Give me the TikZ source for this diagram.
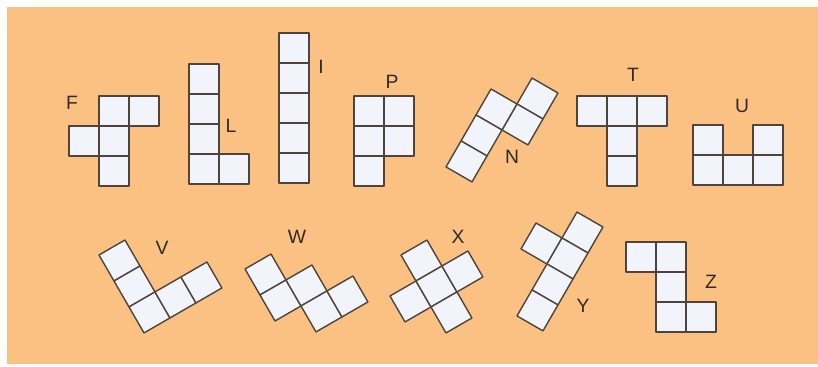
\documentclass[tikz,border=0pt]{standalone}
\usepackage{fontspec}
\setsansfont{Liberation Sans}
\usepackage{xcolor}
\usepackage{tikz}
\usetikzlibrary{positioning}

\definecolor{bgorange}{RGB}{250,193,131}
\definecolor{cellfill}{RGB}{241,245,251}
\definecolor{celledge}{RGB}{78,68,60}
\definecolor{lettercol}{RGB}{48,42,38}

\begin{document}
\begin{tikzpicture}[x=0.02cm, y=-0.02cm,
        piece/.style={x=0.6cm, y=-0.6cm},
        cell/.style={draw=celledge, fill=cellfill, line width=0.8pt, line join=round},
        lbl/.style={font=\sffamily\fontsize{11}{13}\selectfont, text=lettercol, inner sep=0pt},
    ]
    % Background
    \useasboundingbox (0,0) rectangle (818,366);
    \fill[bgorange] (7,7) rectangle (818,364);

    % Row 1: upright pieces
    \begin{scope}[shift={(69,96)}, piece] % F
        \foreach \i/\j in {1/0,2/0,0/1,1/1,1/2} \draw[cell] (\i,\j) rectangle ++(1,1);
    \end{scope}
    \begin{scope}[shift={(189,64)}, piece] % L
        \foreach \i/\j in {0/0,0/1,0/2,0/3,1/3} \draw[cell] (\i,\j) rectangle ++(1,1);
    \end{scope}
    \begin{scope}[shift={(279,33)}, piece] % I
        \foreach \j in {0,...,4} \draw[cell] (0,\j) rectangle ++(1,1);
    \end{scope}
    \begin{scope}[shift={(354,96)}, piece] % P
        \foreach \i/\j in {0/0,1/0,0/1,1/1,0/2} \draw[cell] (\i,\j) rectangle ++(1,1);
    \end{scope}
    \begin{scope}[shift={(506,63)}, rotate=-30, piece] % N
        \foreach \i/\j in {1/0,1/1,0/1,0/2,0/3} \draw[cell] (\i,\j) rectangle ++(1,1);
    \end{scope}
    \begin{scope}[shift={(577,96)}, piece] % T
        \foreach \i/\j in {0/0,1/0,2/0,1/1,1/2} \draw[cell] (\i,\j) rectangle ++(1,1);
    \end{scope}
    \begin{scope}[shift={(693,125)}, piece] % U
        \foreach \i/\j in {0/0,2/0,0/1,1/1,2/1} \draw[cell] (\i,\j) rectangle ++(1,1);
    \end{scope}

    % Row 2: tilted pieces and Z
    \begin{scope}[shift={(99,255)}, rotate=30, piece] % V
        \foreach \i/\j in {0/0,0/1,0/2,1/2,2/2} \draw[cell] (\i,\j) rectangle ++(1,1);
    \end{scope}
    \begin{scope}[shift={(245,269)}, rotate=30, piece] % W
        \foreach \i/\j in {0/0,0/1,1/1,1/2,2/2} \draw[cell] (\i,\j) rectangle ++(1,1);
    \end{scope}
    \begin{scope}[shift={(375,270)}, rotate=30, piece] % X
        \foreach \i/\j in {1/0,0/1,1/1,2/1,1/2} \draw[cell] (\i,\j) rectangle ++(1,1);
    \end{scope}
    \begin{scope}[shift={(551,197)}, rotate=-30, piece] % Y
        \foreach \i/\j in {1/0,0/1,1/1,1/2,1/3} \draw[cell] (\i,\j) rectangle ++(1,1);
    \end{scope}
    \begin{scope}[shift={(626,242)}, piece] % Z
        \foreach \i/\j in {0/0,1/0,1/1,1/2,2/2} \draw[cell] (\i,\j) rectangle ++(1,1);
    \end{scope}

    % Letters
    \node[lbl] (labF) at (72,103)  {F};
    \node[lbl] (labL) at (231,126) {L};
    \node[lbl] (labI) at (321,67)  {I};
    \node[lbl] (labP) at (392,82)  {P};
    \node[lbl] (labN) at (512,157) {N};
    \node[lbl] (labT) at (633,75)  {T};
    \node[lbl] (labU) at (742,106) {U};
    \node[lbl] (labV) at (162,248) {V};
    \node[lbl] (labW) at (297,237) {W};
    \node[lbl] (labX) at (458,237) {X};
    \node[lbl] (labY) at (583,306) {Y};
    \node[lbl] (labZ) at (711,282) {Z};
\end{tikzpicture}
\end{document}
